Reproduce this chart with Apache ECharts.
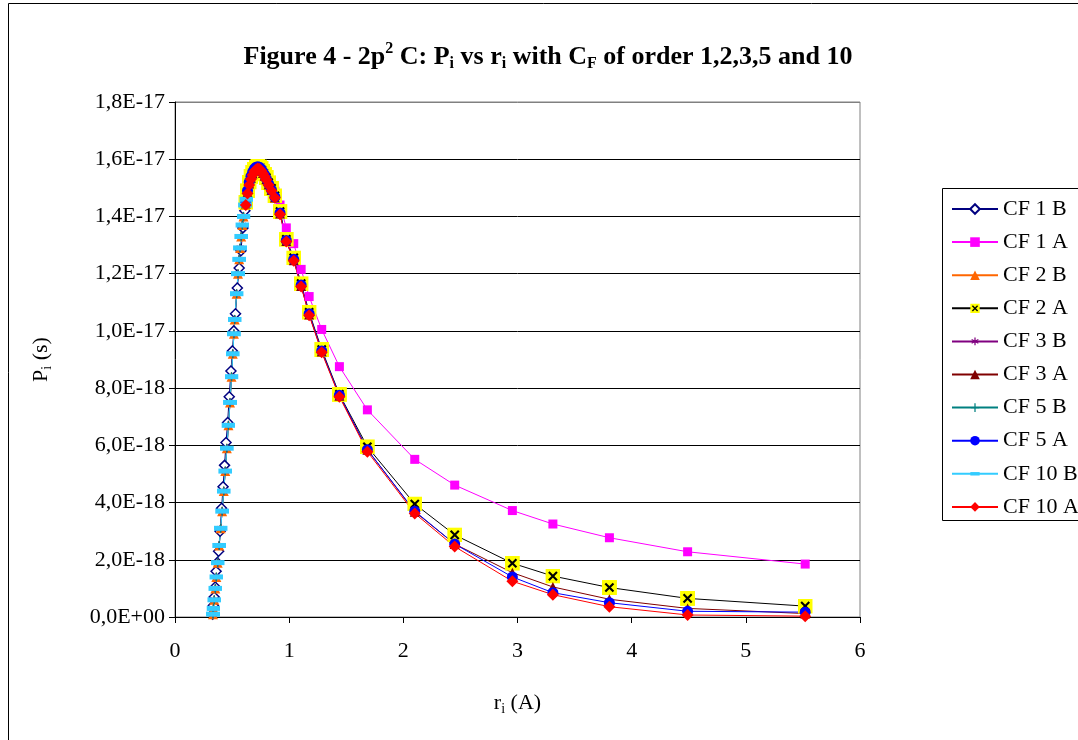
<!DOCTYPE html>
<html>
<head>
<meta charset="utf-8">
<script src="https://cdn.jsdelivr.net/npm/echarts@6/dist/echarts.min.js"></script>
<style>
  html, body { margin: 0; background: #fff; }
  #chart { width: 1078px; height: 740px; }
</style>
</head>
<body>
<div id="chart"></div>
<script>
// P values are in units of 1E-18 s, r values in angstrom

// rising edge, "B" runs
const rB = [0.333, 0.337, 0.344, 0.353, 0.362, 0.374, 0.387, 0.40, 0.413, 0.427, 0.44, 0.454, 0.468, 0.482,
  0.495, 0.506, 0.516, 0.523, 0.54, 0.552, 0.562, 0.57, 0.58, 0.59, 0.60, 0.614, 0.625];
const pB = [0.1, 0.3, 0.6, 1.0, 1.4, 1.9, 2.5, 3.1, 3.7, 4.4, 5.1, 5.9, 6.7, 7.5,
  8.4, 9.2, 9.9, 10.4, 11.3, 12.0, 12.5, 12.9, 13.3, 13.7, 14.0, 14.4, 14.6];
const rB1 = [0.33, 0.336, 0.343, 0.352, 0.36, 0.37, 0.382, 0.395, 0.408, 0.421, 0.434, 0.447,
  0.461, 0.475, 0.49, 0.503, 0.515, 0.53, 0.546, 0.562, 0.578, 0.595, 0.612];
const pB1 = [0.1, 0.4, 0.7, 1.05, 1.6, 1.9, 2.3, 3.0, 3.8, 4.55, 5.3, 6.1,
  6.8, 7.7, 8.6, 9.3, 10.0, 10.6, 11.5, 12.2, 12.8, 13.6, 14.2];

// peak and tail, "A" runs
const rA = [0.62, 0.635, 0.65, 0.665, 0.68, 0.695, 0.71, 0.725, 0.74, 0.755, 0.77, 0.785, 0.80, 0.82,
  0.845, 0.875, 0.92, 0.975, 1.04, 1.105, 1.175, 1.285, 1.44, 1.685, 2.10, 2.45, 2.955, 3.31, 3.805, 4.49, 5.52];
const pA1 = [14.5, 14.9, 15.2, 15.4, 15.55, 15.65, 15.72, 15.75, 15.74, 15.7, 15.62, 15.53, 15.43, 15.28,
  15.1, 14.88, 14.4, 13.6, 13.05, 12.15, 11.2, 10.05, 8.75, 7.24, 5.51, 4.61, 3.72, 3.25, 2.77, 2.28, 1.85];
const pA2 = [14.5, 14.9, 15.2, 15.4, 15.55, 15.65, 15.72, 15.75, 15.73, 15.68, 15.58, 15.48, 15.36, 15.18,
  14.98, 14.72, 14.17, 13.2, 12.55, 11.65, 10.65, 9.35, 7.78, 5.95, 3.95, 2.87, 1.88, 1.43, 1.03, 0.65, 0.38];
const pA3 = [14.45, 14.85, 15.15, 15.35, 15.5, 15.6, 15.67, 15.7, 15.68, 15.62, 15.52, 15.42, 15.3, 15.12,
  14.92, 14.66, 14.1, 13.14, 12.47, 11.57, 10.57, 9.28, 7.73, 5.85, 3.68, 2.55, 1.55, 1.05, 0.62, 0.3, 0.12];
const pA5 = [14.5, 14.9, 15.2, 15.4, 15.55, 15.66, 15.72, 15.74, 15.72, 15.66, 15.56, 15.45, 15.32, 15.14,
  14.93, 14.68, 14.12, 13.16, 12.5, 11.6, 10.6, 9.3, 7.75, 5.85, 3.7, 2.55, 1.4, 0.85, 0.5, 0.2, 0.17];
const pA10 = [14.4, 14.8, 15.1, 15.3, 15.45, 15.57, 15.64, 15.68, 15.66, 15.6, 15.5, 15.4, 15.28, 15.1,
  14.9, 14.65, 14.08, 13.12, 12.45, 11.55, 10.55, 9.25, 7.7, 5.78, 3.62, 2.46, 1.25, 0.78, 0.36, 0.07, 0.03];

const seriesNames = ['CF 1 B', 'CF 1 A', 'CF 2 B', 'CF 2 A', 'CF 3 B', 'CF 3 A', 'CF 5 B', 'CF 5 A', 'CF 10 B', 'CF 10 A'];

const FONT = '"Liberation Serif", "Times New Roman", serif';

function svgSymbol(svg) {
  return 'image://data:image/svg+xml;charset=utf-8,' + encodeURIComponent(svg);
}
const symYellowX = svgSymbol('<svg xmlns="http://www.w3.org/2000/svg" width="14" height="14" viewBox="0 0 14 14">' +
  '<rect width="14" height="14" fill="#ffff00"/><path d="M3.2 3.2L10.8 10.8M10.8 3.2L3.2 10.8" stroke="#000" stroke-width="2"/></svg>');
const symStar = svgSymbol('<svg xmlns="http://www.w3.org/2000/svg" width="10" height="10" viewBox="0 0 10 10">' +
  '<path d="M5 1V9M1.5 3L8.5 7M8.5 3L1.5 7" stroke="#800080" stroke-width="1.3" fill="none"/></svg>');
const symPlus = svgSymbol('<svg xmlns="http://www.w3.org/2000/svg" width="10" height="10" viewBox="0 0 10 10">' +
  '<path d="M5 0.5V9.5M0.5 5H9.5" stroke="#008080" stroke-width="1.3" fill="none"/></svg>');
const symBar = svgSymbol('<svg xmlns="http://www.w3.org/2000/svg" width="14" height="14" viewBox="0 0 14 14">' +
  '<rect x="0" y="4.5" width="14" height="5" fill="#33ccff"/></svg>');

function pairs(xs, ys) {
  return xs.map((x, i) => [x, ys[i]]);
}

function line(name, xs, ys, color, symbol, size, extra) {
  return Object.assign({
    name: name,
    type: 'line',
    data: pairs(xs, ys),
    symbol: symbol,
    symbolSize: size,
    lineStyle: { color: color, width: 1 },
    itemStyle: { color: color },
    emphasis: { disabled: true }
  }, extra || {});
}

const series = [
  line('CF 1 B', rB1, pB1, '#000080', 'diamond', 10,
    { itemStyle: { color: '#fff', borderColor: '#000080', borderWidth: 1.5 } }),
  line('CF 1 A', rA, pA1, '#ff00ff', 'rect', 9),
  line('CF 2 B', rB, pB, '#ff6600', 'triangle', 10),
  line('CF 2 A', rA, pA2, '#000000', symYellowX, 15),
  line('CF 3 B', rB, pB, '#800080', symStar, 10),
  line('CF 3 A', rA, pA3, '#800000', 'triangle', 10),
  line('CF 5 B', rB, pB, '#008080', symPlus, 10),
  line('CF 5 A', rA, pA5, '#0000ff', 'circle', 11),
  line('CF 10 B', rB, pB, '#33ccff', symBar, 14),
  line('CF 10 A', rA, pA10, '#ff0000', 'diamond', 12)
];

function yLabel(v) {
  if (v === 0) return '0,0E+00';
  return (v * 1e-18).toExponential(1).replace('.', ',').replace('e', 'E');
}

const baseText = { fontFamily: FONT, fontSize: 22, color: '#000' };
const subText = { fontFamily: FONT, fontSize: 14, color: '#000', padding: [11, 0, 0, 0] };

const chart = echarts.init(document.getElementById('chart'));
chart.setOption({
  animation: false,
  backgroundColor: '#fff',
  grid: {
    left: 175, top: 102, width: 685, height: 515,
    show: true, borderColor: '#808080', borderWidth: 1
  },
  xAxis: {
    type: 'value', min: 0, max: 6, interval: 1,
    name: '{a|r}{s|i}{a| (A)}',
    nameLocation: 'middle', nameGap: 74,
    nameTextStyle: { rich: { a: baseText, s: subText } },
    axisLine: { show: true, lineStyle: { color: '#000', width: 1 } },
    axisTick: { show: true, length: 6, lineStyle: { color: '#000' } },
    axisLabel: Object.assign({ margin: 23 }, baseText),
    splitLine: { show: false }
  },
  yAxis: {
    type: 'value', min: 0, max: 18, interval: 2,
    name: '{a|P}{s|i}{a| (s)}',
    nameLocation: 'middle', nameGap: 121, nameRotate: 90,
    nameTextStyle: { rich: { a: baseText, s: subText } },
    axisLine: { show: true, lineStyle: { color: '#000', width: 1 } },
    axisTick: { show: true, length: 6, lineStyle: { color: '#000' } },
    axisLabel: Object.assign({ margin: 10, formatter: yLabel }, baseText),
    splitLine: {
      show: true,
      lineStyle: {
        color: ['#000', '#000', '#000', '#000', '#000', '#000', '#000', '#000', '#000', '#808080'],
        width: 1
      }
    }
  },
  legend: {
    orient: 'vertical',
    left: 951, top: 198, padding: 0,
    itemWidth: 46, itemHeight: 12, itemGap: 11.1,
    textStyle: Object.assign({ lineHeight: 22 }, baseText),
    data: seriesNames
  },
  graphic: [
    {
      type: 'rect', silent: true,
      shape: { x: 8.5, y: 3.5, width: 1200, height: 1000 },
      style: { fill: 'none', stroke: '#000', lineWidth: 1 }
    },
    {
      type: 'rect', silent: true,
      shape: { x: 942.5, y: 188.5, width: 200, height: 332 },
      style: { fill: 'none', stroke: '#000', lineWidth: 1 }
    },
    {
      type: 'text', silent: true,
      x: 548, y: 57,
      style: {
        text: '{b|Figure 4 - 2p}{p|2}{b| C: P}{s|i}{b| vs r}{s|i}{b| with C}{s|F}{b| of order 1,2,3,5 and 10}',
        align: 'center', verticalAlign: 'middle',
        rich: {
          b: { fontFamily: FONT, fontSize: 26, fontWeight: 'bold', fill: '#000' },
          p: { fontFamily: FONT, fontSize: 16, fontWeight: 'bold', fill: '#000', padding: [0, 0, 16, 0] },
          s: { fontFamily: FONT, fontSize: 16, fontWeight: 'bold', fill: '#000', padding: [14, 0, 0, 0] }
        }
      }
    }
  ],
  series: series
});
</script>
</body>
</html>
